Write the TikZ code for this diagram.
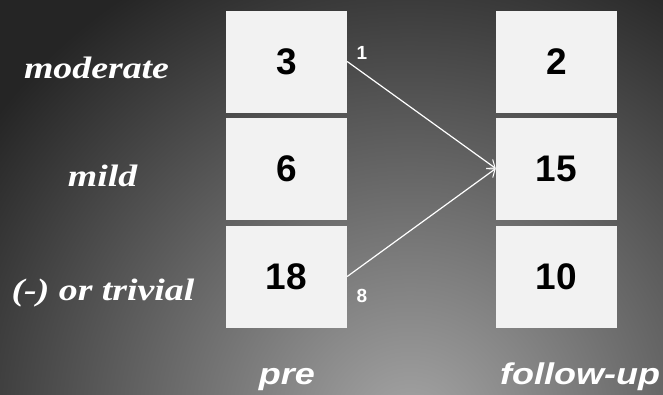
\documentclass[tikz,border=0pt]{standalone}
\usepackage{fontspec}
\setmainfont{Liberation Serif}
\setsansfont{Liberation Sans}
\usetikzlibrary{arrows.meta}
\definecolor{bgdark}{HTML}{252525}
\definecolor{bglight}{HTML}{A6A6A6}
\definecolor{boxfill}{HTML}{F2F2F2}
\begin{document}
\begin{tikzpicture}[x=1pt,y=-1pt,
  cell/.style={draw=none,fill=boxfill,minimum width=121pt,minimum height=102pt,inner sep=0pt,
    font=\sffamily\bfseries\fontsize{37}{37}\selectfont,text=black},
  rowlab/.style={anchor=base,text=white,xscale=1.22,font=\rmfamily\bfseries\itshape\fontsize{31}{31}\selectfont},
  collab/.style={anchor=base,text=white,xscale=1.2,font=\sffamily\bfseries\itshape\fontsize{30}{30}\selectfont},
  small/.style={text=white,font=\sffamily\bfseries\fontsize{19}{19}\selectfont,inner sep=0pt},
  flow/.style={draw=white,line width=1.2pt,-{Straight Barb[length=7pt,width=11pt,line width=1pt]}}]
\useasboundingbox (0,0) rectangle (663,394);
\fill[bgdark] (0,0) rectangle (663,394);
\begin{scope}
\clip (0,0) rectangle (663,394);
\shade[inner color=bglight,outer color=bgdark] (410,430) circle (520);
\end{scope}
% pre column
\node[cell] (a1) at (286.5,61.5) {3};
\node[cell] (a2) at (286.5,168.5) {6};
\node[cell] (a3) at (286.5,276.5) {18};
% follow-up column
\node[cell] (b1) at (556.5,61.5) {2};
\node[cell] (b2) at (556.5,168.5) {15};
\node[cell] (b3) at (556.5,276.5) {10};
% row labels
\node[rowlab] (l1) at (96.5,78) {moderate};
\node[rowlab] (l2) at (102.5,186) {mild};
\node[rowlab] (l3) at (103,300) {(-) or trivial};
% column labels
\node[collab] (c1) at (287,384) {pre};
\node[collab] (c2) at (580,384) {follow-up};
% flows
\draw[flow] (a1.east) -- (b2.west);
\draw[flow] (a3.east) -- (b2.west);
\node[small] (n1) at (362,53) {1};
\node[small] (n8) at (362,296) {8};
\end{tikzpicture}
\end{document}
